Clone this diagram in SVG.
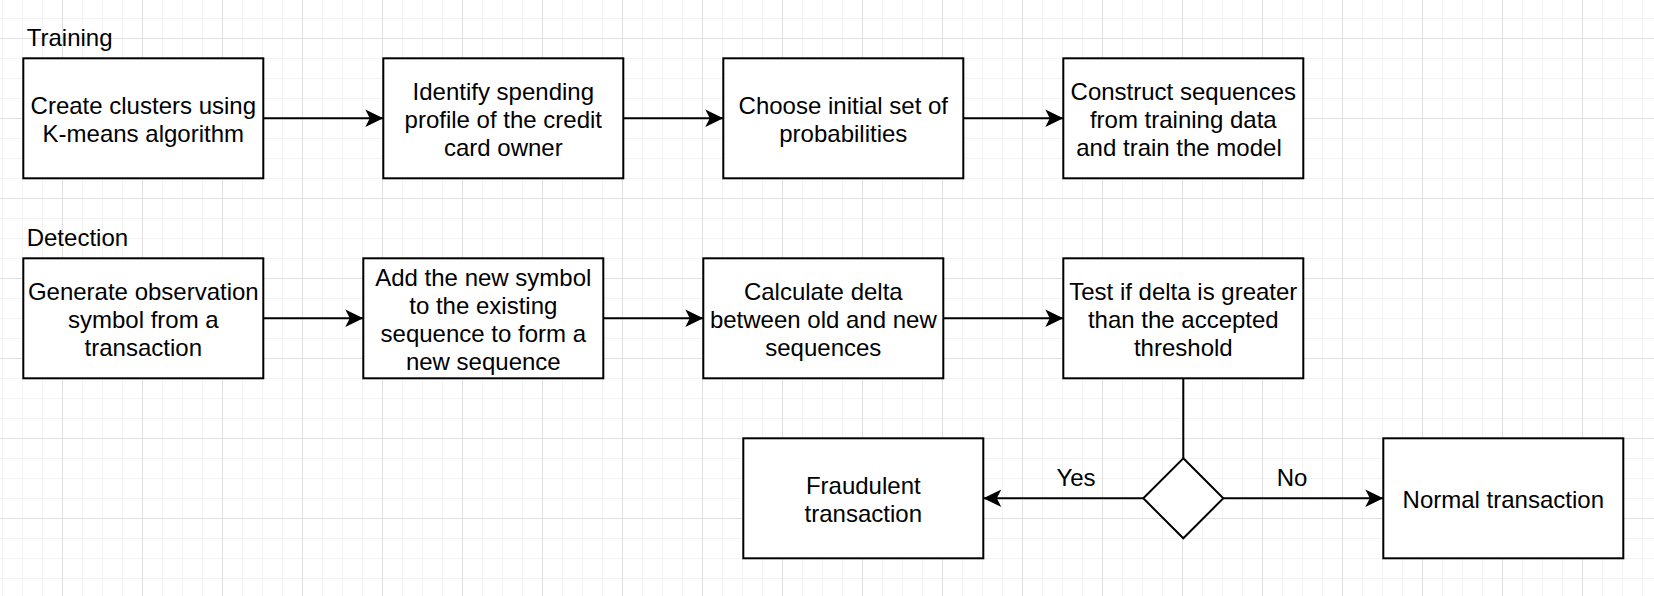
<svg xmlns="http://www.w3.org/2000/svg" width="1654" height="596" viewBox="0 0 1654 596">
  <style>
    .box { fill: #ffffff; stroke: #000000; stroke-width: 2; }
    .edge { fill: none; stroke: #000000; stroke-width: 2; }
    .t { font-family: "Liberation Sans", Arial, Helvetica, sans-serif; font-size: 24px; fill: #000000; text-anchor: middle; }
    .lbl { font-family: "Liberation Sans", Arial, Helvetica, sans-serif; font-size: 24px; fill: #000000; }
  </style>
  <defs>
    <pattern id="grid" patternUnits="userSpaceOnUse" x="62" y="38" width="80" height="80">
      <rect x="20" y="0" width="1" height="80" fill="#f3f3f3"/>
      <rect x="40" y="0" width="1" height="80" fill="#f3f3f3"/>
      <rect x="60" y="0" width="1" height="80" fill="#f3f3f3"/>
      <rect x="0" y="20" width="80" height="1" fill="#f3f3f3"/>
      <rect x="0" y="40" width="80" height="1" fill="#f3f3f3"/>
      <rect x="0" y="60" width="80" height="1" fill="#f3f3f3"/>
      <rect x="0" y="0" width="1" height="80" fill="#e0e0e0"/>
      <rect x="0" y="0" width="80" height="1" fill="#e0e0e0"/>
    </pattern>
    <marker id="arrow" markerUnits="userSpaceOnUse" markerWidth="20" markerHeight="20" viewBox="-19 -10 20 20" refX="0" refY="0" orient="auto">
      <path d="M0,0 L-18,-8.7 L-13.5,0 L-18,8.7 Z" fill="#000000" stroke="none"/>
    </marker>
  </defs>
  <rect x="0" y="0" width="1654" height="596" fill="#ffffff"/>
  <rect x="0" y="0" width="1654" height="596" fill="url(#grid)"/>

  <g id="section-labels">
    <text class="lbl" x="26.7" y="45.7">Training</text>
    <text class="lbl" x="26.7" y="245.7">Detection</text>
  </g>

  <g id="connectors">
    <line class="edge" x1="263.3" y1="118.3" x2="383.3" y2="118.3" marker-end="url(#arrow)"/>
    <line class="edge" x1="623.3" y1="118.3" x2="723.3" y2="118.3" marker-end="url(#arrow)"/>
    <line class="edge" x1="963.3" y1="118.3" x2="1063.3" y2="118.3" marker-end="url(#arrow)"/>
    <line class="edge" x1="263.3" y1="318.3" x2="363.3" y2="318.3" marker-end="url(#arrow)"/>
    <line class="edge" x1="603.3" y1="318.3" x2="703.3" y2="318.3" marker-end="url(#arrow)"/>
    <line class="edge" x1="943.3" y1="318.3" x2="1063.3" y2="318.3" marker-end="url(#arrow)"/>
    <line class="edge" x1="1183.3" y1="378.3" x2="1183.3" y2="458.3"/>
    <line class="edge" x1="1143.3" y1="498.3" x2="983.3" y2="498.3" marker-end="url(#arrow)"/>
    <line class="edge" x1="1223.3" y1="498.3" x2="1383.3" y2="498.3" marker-end="url(#arrow)"/>
    <text class="t" x="1076" y="486">Yes</text>
    <text class="t" x="1292" y="486">No</text>
  </g>

  <g id="create-clusters">
    <rect class="box" x="23.3" y="58.3" width="240" height="120"/>
    <text class="t" x="143.3" y="113.6">Create clusters using</text>
    <text class="t" x="143.3" y="141.6">K-means algorithm</text>
  </g>
  <g id="identify-profile">
    <rect class="box" x="383.3" y="58.3" width="240" height="120"/>
    <text class="t" x="503.3" y="99.6">Identify spending</text>
    <text class="t" x="503.3" y="127.6">profile of the credit</text>
    <text class="t" x="503.3" y="155.6">card owner</text>
  </g>
  <g id="choose-probabilities">
    <rect class="box" x="723.3" y="58.3" width="240" height="120"/>
    <text class="t" x="843.3" y="113.6">Choose initial set of</text>
    <text class="t" x="843.3" y="141.6">probabilities</text>
  </g>
  <g id="construct-sequences">
    <rect class="box" x="1063.3" y="58.3" width="240" height="120"/>
    <text class="t" x="1183.3" y="99.6">Construct sequences</text>
    <text class="t" x="1183.3" y="127.6">from training data</text>
    <text class="t" x="1179" y="155.6">and train the model</text>
  </g>

  <g id="generate-symbol">
    <rect class="box" x="23.3" y="258.3" width="240" height="120"/>
    <text class="t" x="143.3" y="299.6">Generate observation</text>
    <text class="t" x="143.3" y="327.6">symbol from a</text>
    <text class="t" x="143.3" y="355.6">transaction</text>
  </g>
  <g id="add-symbol">
    <rect class="box" x="363.3" y="258.3" width="240" height="120"/>
    <text class="t" x="483.3" y="285.6">Add the new symbol</text>
    <text class="t" x="483.3" y="313.6">to the existing</text>
    <text class="t" x="483.3" y="341.6">sequence to form a</text>
    <text class="t" x="483.3" y="369.6">new sequence</text>
  </g>
  <g id="calculate-delta">
    <rect class="box" x="703.3" y="258.3" width="240" height="120"/>
    <text class="t" x="823.3" y="299.6">Calculate delta</text>
    <text class="t" x="823.3" y="327.6">between old and new</text>
    <text class="t" x="823.3" y="355.6">sequences</text>
  </g>
  <g id="test-delta">
    <rect class="box" x="1063.3" y="258.3" width="240" height="120"/>
    <text class="t" x="1183.3" y="299.6">Test if delta is greater</text>
    <text class="t" x="1183.3" y="327.6">than the accepted</text>
    <text class="t" x="1183.3" y="355.6">threshold</text>
  </g>

  <g id="decision">
    <polygon class="box" points="1183.3,458.3 1223.3,498.3 1183.3,538.3 1143.3,498.3"/>
  </g>
  <g id="fraudulent">
    <rect class="box" x="743.3" y="438.3" width="240" height="120"/>
    <text class="t" x="863.3" y="493.6">Fraudulent</text>
    <text class="t" x="863.3" y="521.6">transaction</text>
  </g>
  <g id="normal">
    <rect class="box" x="1383.3" y="438.3" width="240" height="120"/>
    <text class="t" x="1503.3" y="507.6">Normal transaction</text>
  </g>
</svg>
